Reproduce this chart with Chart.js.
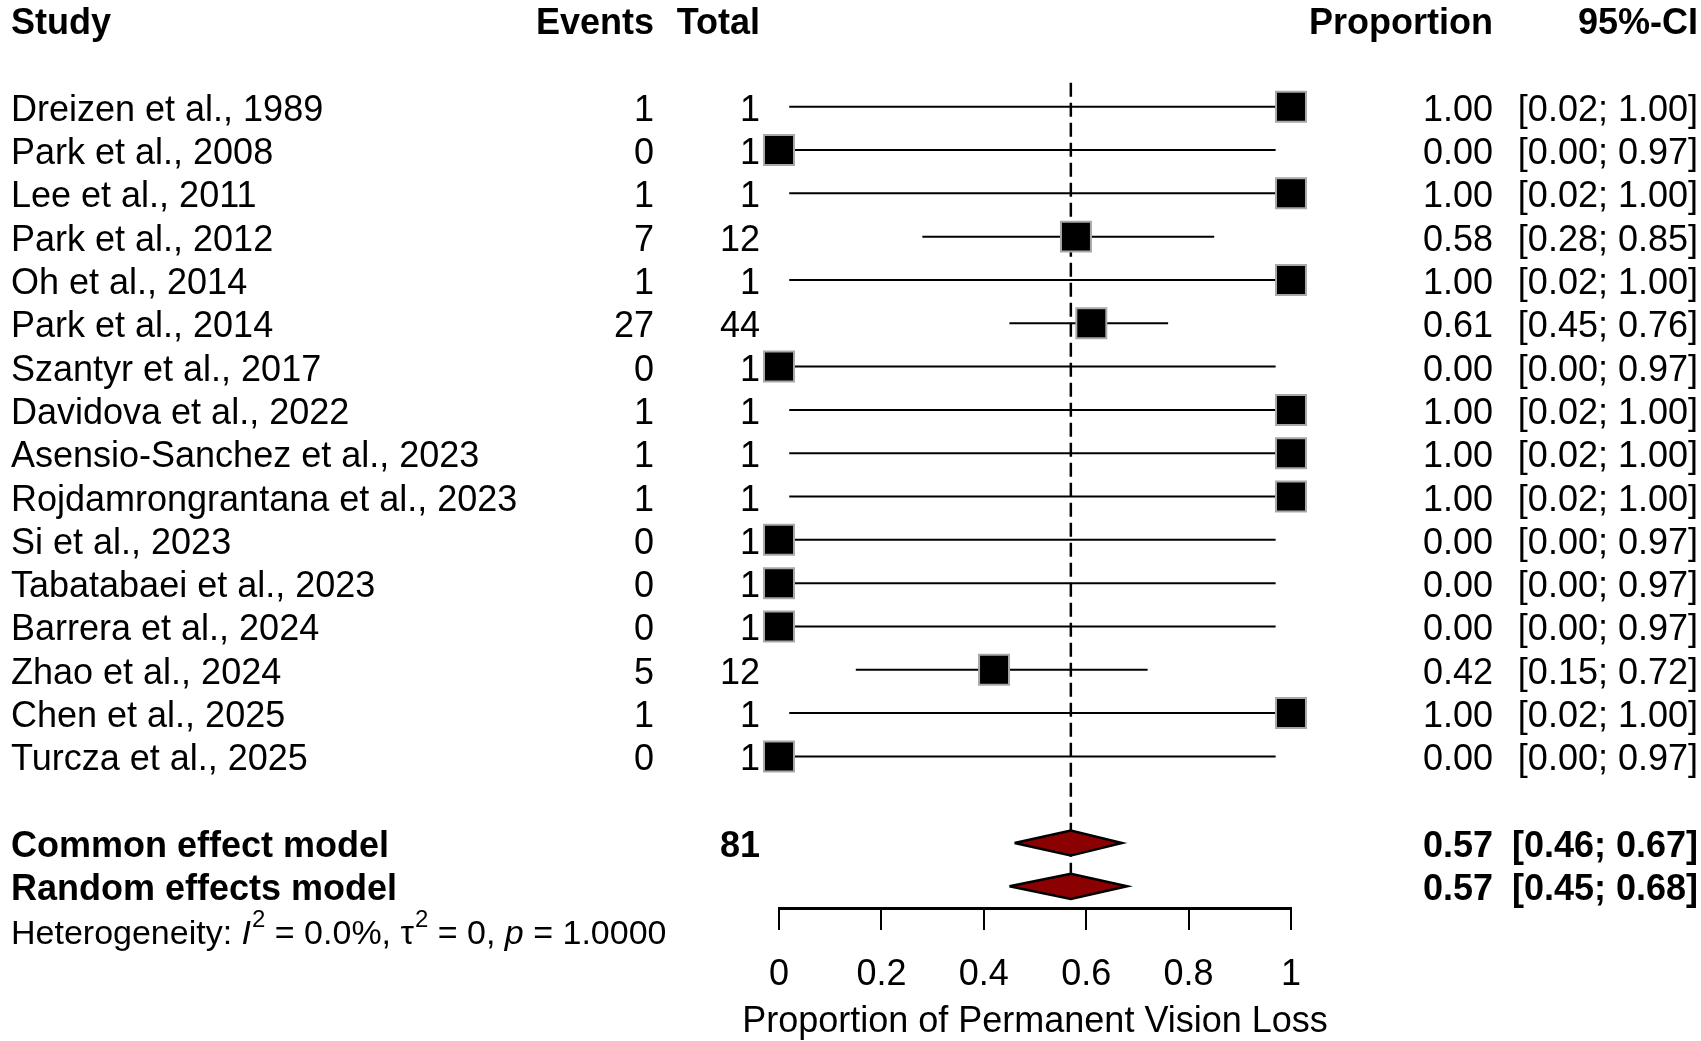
<!DOCTYPE html>
<html>
<head>
<meta charset="utf-8">
<script src="https://cdn.jsdelivr.net/npm/chart.js@4.4.1/dist/chart.umd.min.js"></script>
<style>
html,body{margin:0;padding:0;background:#fff;overflow:hidden}
#wrap{width:1701px;height:1041px;position:relative}
canvas{display:block}
</style>
</head>
<body>
<div id="wrap"><canvas id="c" width="1701" height="1041"></canvas></div>
<script>
// ---------------- data ----------------
const studies = [
  'Dreizen et al., 1989','Park et al., 2008','Lee et al., 2011','Park et al., 2012',
  'Oh et al., 2014','Park et al., 2014','Szantyr et al., 2017','Davidova et al., 2022',
  'Asensio-Sanchez et al., 2023','Rojdamrongrantana et al., 2023','Si et al., 2023',
  'Tabatabaei et al., 2023','Barrera et al., 2024','Zhao et al., 2024','Chen et al., 2025',
  'Turcza et al., 2025'
];
const events = [1,0,1,7,1,27,0,1,1,1,0,0,0,5,1,0];
const totals = [1,1,1,12,1,44,1,1,1,1,1,1,1,12,1,1];
const proportions = [1.00,0.00,1.00,0.58,1.00,0.61,0.00,1.00,1.00,1.00,0.00,0.00,0.00,0.42,1.00,0.00];
const ciLower = [0.02,0.00,0.02,0.28,0.02,0.45,0.00,0.02,0.02,0.02,0.00,0.00,0.00,0.15,0.02,0.00];
const ciUpper = [1.00,0.97,1.00,0.85,1.00,0.76,0.97,1.00,1.00,1.00,0.97,0.97,0.97,0.72,1.00,0.97];

const models = ['Common effect model','Random effects model'];
const modelTotals = ['81',''];
const modelEstimate = [0.57,0.57];
const modelLower = [0.46,0.45];
const modelUpper = [0.67,0.68];

const headers = ['Study','Events','Total','Proportion','95%-CI'];
const heterogeneity = {I2:'0.0%', tau2:'0', p:'1.0000'};
const xTickValues = [0,0.2,0.4,0.6,0.8,1];
const xTitle = 'Proportion of Permanent Vision Loss';

// ---------------- layout / style ----------------
const FONT = '"Liberation Sans", Arial, Helvetica, sans-serif';
const headerRow = -2;
const modelRows = [studies.length + 1, studies.length + 2];
const hetRow = studies.length + 3;
const diamondHalf = 0.29;
const BASE = 14; // text baseline offset below row centre

const datasets = [];
// confidence interval lines
studies.forEach((s,i) => {
  datasets.push({
    type:'line', data:[{x:ciLower[i],y:i},{x:ciUpper[i],y:i}],
    borderColor:'#000', borderWidth:2, pointRadius:0, fill:false, clip:false, order:3
  });
});
// dashed pooled-estimate line
datasets.push({
  type:'line', data:[{x:modelEstimate[0],y:-0.55},{x:modelEstimate[0],y:modelRows[1]}],
  borderColor:'#000', borderWidth:2.5, borderDash:[14,6], pointRadius:0, fill:false, clip:false, order:4
});
// study squares
datasets.push({
  type:'scatter', data:proportions.map((p,i)=>({x:p,y:i})),
  pointStyle:'rect', pointRadius:21.2, pointHoverRadius:21.2,
  backgroundColor:'#000', borderColor:'#a8a8a8', borderWidth:2, clip:false, order:1
});
// pooled diamonds
models.forEach((m,k) => {
  const r = modelRows[k];
  datasets.push({
    type:'line',
    data:[{x:modelLower[k],y:r},{x:modelEstimate[k],y:r-diamondHalf},{x:modelUpper[k],y:r},
          {x:modelEstimate[k],y:r+diamondHalf},{x:modelLower[k],y:r}],
    borderColor:'#000', borderWidth:2.5, backgroundColor:'#8b0000', fill:'shape',
    pointRadius:0, tension:0, borderJoinStyle:'miter', clip:false, order:0
  });
});

function rightText(ctx, t, x, y){ ctx.textAlign='right'; ctx.fillText(t, x, y); }
function leftText(ctx, t, x, y){ ctx.textAlign='left'; ctx.fillText(t, x, y); }

const textPlugin = {
  id:'forestText',
  afterDraw(chart){
    const ctx = chart.ctx, ys = chart.scales.y, area = chart.chartArea;
    const colStudy = 11, colEvents = 654, colTotal = 760, colProp = 1493, colCI = 1698;
    ctx.save();
    ctx.fillStyle = '#000';
    ctx.textBaseline = 'alphabetic';
    // headers
    ctx.font = 'bold 36px ' + FONT;
    const hy = ys.getPixelForValue(headerRow) + BASE;
    leftText(ctx, headers[0], colStudy, hy);
    rightText(ctx, headers[1], colEvents, hy);
    rightText(ctx, headers[2], colTotal, hy);
    rightText(ctx, headers[3], colProp, hy);
    rightText(ctx, headers[4], colCI, hy);
    // study rows
    ctx.font = '36px ' + FONT;
    studies.forEach((s,i) => {
      const y = ys.getPixelForValue(i) + BASE;
      leftText(ctx, s, colStudy, y);
      rightText(ctx, String(events[i]), colEvents, y);
      rightText(ctx, String(totals[i]), colTotal, y);
      rightText(ctx, proportions[i].toFixed(2), colProp, y);
      rightText(ctx, '[' + ciLower[i].toFixed(2) + '; ' + ciUpper[i].toFixed(2) + ']', colCI, y);
    });
    // model rows
    ctx.font = 'bold 36px ' + FONT;
    models.forEach((m,k) => {
      const y = ys.getPixelForValue(modelRows[k]) + BASE;
      leftText(ctx, m, colStudy, y);
      if (modelTotals[k]) rightText(ctx, modelTotals[k], colTotal, y);
      rightText(ctx, modelEstimate[k].toFixed(2), colProp, y);
      rightText(ctx, '[' + modelLower[k].toFixed(2) + '; ' + modelUpper[k].toFixed(2) + ']', colCI, y);
    });
    // heterogeneity line
    const size = 34;
    const y = ys.getPixelForValue(hetRow) + BASE;
    const parts = [
      {t:'Heterogeneity: '},
      {t:'I', it:true},
      {t:'2', sup:true},
      {t:' = ' + heterogeneity.I2 + ', '},
      {t:'\u03C4'},
      {t:'2', sup:true},
      {t:' = ' + heterogeneity.tau2 + ', '},
      {t:'p', it:true},
      {t:' = ' + heterogeneity.p}
    ];
    let x = colStudy;
    ctx.textAlign = 'left';
    parts.forEach(p => {
      if (p.sup) {
        ctx.font = Math.round(size*0.7) + 'px ' + FONT;
        ctx.fillText(p.t, x + 1, y - size*0.5);
      } else {
        ctx.font = (p.it ? 'italic ' : '') + size + 'px ' + FONT;
        ctx.fillText(p.t, x, y);
      }
      x += ctx.measureText(p.t).width + (p.sup ? 1 : 0);
    });
    // x-axis title (drawn here so it is not squeezed to the axis width)
    ctx.font = '36px ' + FONT;
    ctx.textAlign = 'center';
    ctx.fillText(xTitle, (area.left + area.right) / 2, 1032);
    ctx.restore();
  }
};

new Chart(document.getElementById('c'), {
  type:'scatter',
  data:{datasets},
  options:{
    responsive:false,
    animation:false,
    devicePixelRatio:1,
    events:[],
    layout:{padding:{left:779, right:410, top:80.7, bottom:3}},
    plugins:{legend:{display:false}, tooltip:{enabled:false}},
    scales:{
      x:{
        type:'linear', min:0, max:1,
        afterBuildTicks:s => { s.ticks = xTickValues.map(v => ({value:v})); },
        afterFit:s => { s.height = 130; },
        ticks:{color:'#000', font:{family:FONT, size:36, lineHeight:1}, padding:27,
               maxRotation:0, autoSkip:false, callback:v => String(v)},
        grid:{drawOnChartArea:false, drawTicks:true, tickLength:22, color:'#000', lineWidth:2},
        border:{display:true, color:'#000', width:3},
        title:{display:false}
      },
      y:{type:'linear', reverse:true, min:-0.6, max:18.5, display:false}
    }
  },
  plugins:[textPlugin]
});
</script>
</body>
</html>
